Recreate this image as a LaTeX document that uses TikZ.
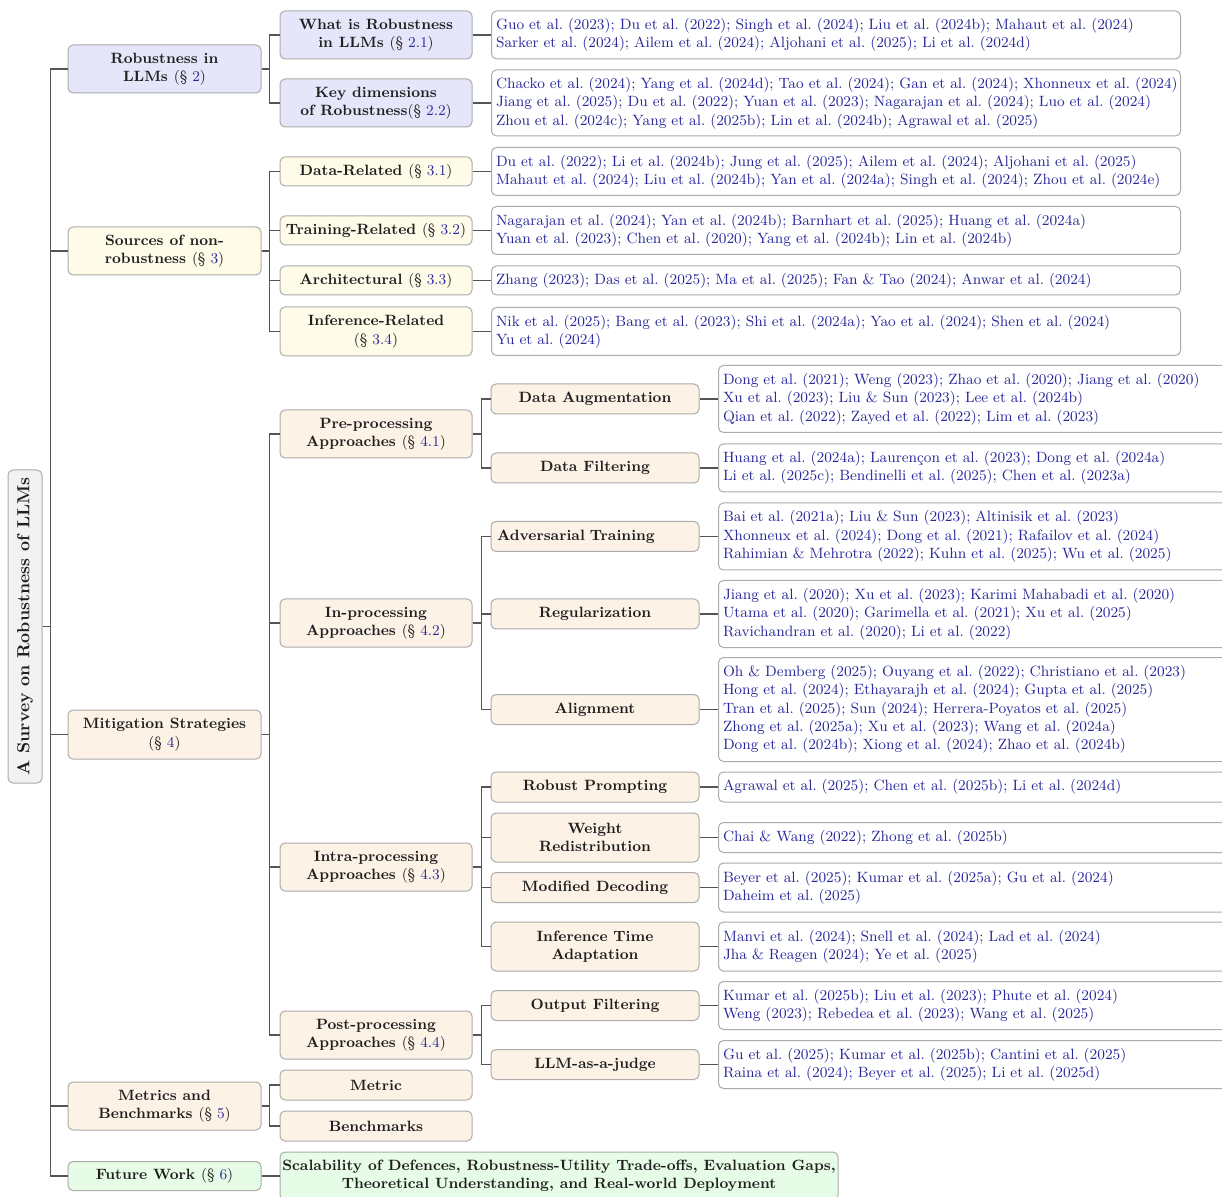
\documentclass[tikz,border=0pt]{standalone}
\usepackage{fontspec}
\usepackage{xcolor}
\definecolor{lavf}{RGB}{230,230,250}
\definecolor{yelf}{RGB}{254,251,232}
\definecolor{peaf}{RGB}{253,242,230}
\definecolor{grnf}{RGB}{230,252,230}
\definecolor{gryf}{RGB}{242,242,242}
\definecolor{bordc}{RGB}{172,172,172}
\definecolor{linec}{RGB}{85,85,85}
\definecolor{citec}{RGB}{40,40,155}
\newcommand\pxl[1]{#1*0.6pt}
\newcommand\secn[1]{{\mdseries(\S~\textcolor{citec}{#1})}}
\frenchspacing
\begin{document}
\begin{tikzpicture}[x=0.6pt,y=-0.6pt,
  conn/.style={draw=linec,line width=0.95pt},
  nbox/.style={draw=bordc,line width=0.6pt,rounded corners=3pt,inner sep=0pt,align=center,font=\fontsize{8.94}{11}\selectfont\bfseries\frenchspacing,text=black!88},
  lone/.style={nbox,minimum width=\pxl{193}},
  ltwo/.style={nbox,minimum width=\pxl{192}},
  lthree/.style={nbox,minimum width=\pxl{208}},
  leafbox/.style={draw=bordc,line width=0.6pt,rounded corners=3pt,fill=white,anchor=west,align=left,inner xsep=\pxl{4.5},inner ysep=0pt,text=citec,font=\fontsize{8.94}{11}\selectfont\frenchspacing},
  leafA/.style={leafbox,text width=\pxl{680}},
  leafB/.style={leafbox,text width=\pxl{530}},
]
\clip (0,0) rectangle (1222,1197);
\fill[white] (0,0) rectangle (1222,1197);

% root
\node[nbox,fill=gryf,rotate=90,minimum width=\pxl{313},minimum height=\pxl{34},font=\fontsize{10.5}{12}\selectfont\bfseries] (root) at (25,626.5) {A Survey on Robustness of LLMs};

% level 1
\node[lone,fill=lavf,minimum height=\pxl{48}] (r2) at (164.5,69) {Robustness in\\LLMs \secn{2}};
\node[lone,fill=yelf,minimum height=\pxl{48}] (r3) at (164.5,251) {Sources of non-\\robustness \secn{3}};
\node[lone,fill=peaf,minimum height=\pxl{49}] (r4) at (164.5,734.5) {Mitigation Strategies\\\secn{4}};
\node[lone,fill=peaf,minimum height=\pxl{48}] (r5) at (164.5,1106) {Metrics and\\Benchmarks \secn{5}};
\node[lone,fill=grnf,minimum height=\pxl{29}] (r6) at (164.5,1176) {Future Work \secn{6}};

% level 2
\node[ltwo,fill=lavf,minimum height=\pxl{48}] (r21) at (376,35) {What is Robustness\\in LLMs \secn{2.1}};
\node[ltwo,fill=lavf,minimum height=\pxl{48}] (r22) at (376,103) {Key dimensions\\of Robustness\secn{2.2}};
\node[ltwo,fill=yelf,minimum height=\pxl{29}] (r31) at (376,171.5) {Data-Related \secn{3.1}};
\node[ltwo,fill=yelf,minimum height=\pxl{29}] (r32) at (376,230.5) {Training-Related \secn{3.2}};
\node[ltwo,fill=yelf,minimum height=\pxl{29}] (r33) at (376,280.5) {Architectural \secn{3.3}};
\node[ltwo,fill=yelf,minimum height=\pxl{49}] (r34) at (376,331.5) {Inference-Related\\\secn{3.4}};
\node[ltwo,fill=peaf,minimum height=\pxl{48}] (r41) at (376,434) {Pre-processing\\Approaches \secn{4.1}};
\node[ltwo,fill=peaf,minimum height=\pxl{48}] (r42) at (376,623) {In-processing\\Approaches \secn{4.2}};
\node[ltwo,fill=peaf,minimum height=\pxl{48}] (r43) at (376,867) {Intra-processing\\Approaches \secn{4.3}};
\node[ltwo,fill=peaf,minimum height=\pxl{48}] (r44) at (376,1035) {Post-processing\\Approaches \secn{4.4}};
\node[ltwo,fill=peaf,minimum height=\pxl{30}] (r51) at (376,1085) {Metric};
\node[ltwo,fill=peaf,minimum height=\pxl{30}] (r52) at (376,1126) {Benchmarks};
\node[nbox,fill=grnf,minimum width=\pxl{558},minimum height=\pxl{48}] (r61) at (559,1176) {Scalability of Defences, Robustness-Utility Trade-offs, Evaluation Gaps,\\Theoretical Understanding, and Real-world Deployment};

% level 3
\node[lthree,fill=peaf,minimum height=\pxl{30}] (r411) at (595,399) {Data Augmentation};
\node[lthree,fill=peaf,minimum height=\pxl{30}] (r412) at (595,468) {Data Filtering};
\node[lthree,fill=peaf,minimum height=\pxl{30},align=left,text width=\pxl{196}] (r421) at (595,536.5) {Adversarial Training};
\node[lthree,fill=peaf,minimum height=\pxl{30}] (r422) at (595,614) {Regularization};
\node[lthree,fill=peaf,minimum height=\pxl{30}] (r423) at (595,709.5) {Alignment};
\node[lthree,fill=peaf,minimum height=\pxl{30}] (r431) at (595,787) {Robust Prompting};
\node[lthree,fill=peaf,minimum height=\pxl{49}] (r432) at (595,837.5) {Weight\\Redistribution};
\node[lthree,fill=peaf,minimum height=\pxl{30}] (r433) at (595,887.5) {Modified Decoding};
\node[lthree,fill=peaf,minimum height=\pxl{49}] (r434) at (595,946.5) {Inference Time\\Adaptation};
\node[lthree,fill=peaf,minimum height=\pxl{30}] (r441) at (595,1005.5) {Output Filtering};
\node[lthree,fill=peaf,minimum height=\pxl{30}] (r442) at (595,1064.5) {LLM-as-a-judge};

% leaves (level 2)
\node[leafA,minimum height=\pxl{48}] (f21) at (491,35) {Guo et al. (2023); Du et al. (2022); Singh et al. (2024); Liu et al. (2024b); Mahaut et al. (2024)\\Sarker et al. (2024); Ailem et al. (2024); Aljohani et al. (2025); Li et al. (2024d)};
\node[leafA,minimum height=\pxl{66}] (f22) at (491,103) {\mbox{Chacko et al. (2024); Yang et al. (2024d); Tao et al. (2024); Gan et al. (2024); Xhonneux et al. (2024)}\\Jiang et al. (2025); Du et al. (2022); Yuan et al. (2023); Nagarajan et al. (2024); Luo et al. (2024)\\Zhou et al. (2024c); Yang et al. (2025b); Lin et al. (2024b); Agrawal et al. (2025)};
\node[leafA,minimum height=\pxl{48}] (f31) at (491,171.5) {Du et al. (2022); Li et al. (2024b); Jung et al. (2025); Ailem et al. (2024); Aljohani et al. (2025)\\\mbox{Mahaut et al. (2024); Liu et al. (2024b); Yan et al. (2024a); Singh et al. (2024); Zhou et al. (2024e)}};
\node[leafA,minimum height=\pxl{48}] (f32) at (491,230.5) {Nagarajan et al. (2024); Yan et al. (2024b); Barnhart et al. (2025); Huang et al. (2024a)\\Yuan et al. (2023); Chen et al. (2020); Yang et al. (2024b); Lin et al. (2024b)};
\node[leafA,minimum height=\pxl{29}] (f33) at (491,280.5) {Zhang (2023); Das et al. (2025); Ma et al. (2025); Fan \& Tao (2024); Anwar et al. (2024)};
\node[leafA,minimum height=\pxl{48}] (f34) at (491,331.5) {Nik et al. (2025); Bang et al. (2023); Shi et al. (2024a); Yao et al. (2024); Shen et al. (2024)\\Yu et al. (2024)};

% leaves (level 3)
\node[leafB,minimum height=\pxl{67}] (f411) at (718,399) {Dong et al. (2021); Weng (2023); Zhao et al. (2020); Jiang et al. (2020)\\Xu et al. (2023); Liu \& Sun (2023); Lee et al. (2024b)\\Qian et al. (2022); Zayed et al. (2022); Lim et al. (2023)};
\node[leafB,minimum height=\pxl{48}] (f412) at (718,468) {Huang et al. (2024a); Laurençon et al. (2023); Dong et al. (2024a)\\Li et al. (2025c); Bendinelli et al. (2025); Chen et al. (2023a)};
\node[leafB,minimum height=\pxl{67}] (f421) at (718,536.5) {Bai et al. (2021a); Liu \& Sun (2023); Altinisik et al. (2023)\\Xhonneux et al. (2024); Dong et al. (2021); Rafailov et al. (2024)\\Rahimian \& Mehrotra (2022); Kuhn et al. (2025); Wu et al. (2025)};
\node[leafB,minimum height=\pxl{67}] (f422) at (718,614) {Jiang et al. (2020); Xu et al. (2023); Karimi Mahabadi et al. (2020)\\Utama et al. (2020); Garimella et al. (2021); Xu et al. (2025)\\Ravichandran et al. (2020); Li et al. (2022)};
\node[leafB,minimum height=\pxl{104}] (f423) at (718,709.5) {Oh \& Demberg (2025); Ouyang et al. (2022); Christiano et al. (2023)\\Hong et al. (2024); Ethayarajh et al. (2024); Gupta et al. (2025)\\Tran et al. (2025); Sun (2024); Herrera-Poyatos et al. (2025)\\Zhong et al. (2025a); Xu et al. (2023); Wang et al. (2024a)\\Dong et al. (2024b); Xiong et al. (2024); Zhao et al. (2024b)};
\node[leafB,minimum height=\pxl{30}] (f431) at (718,787) {Agrawal et al. (2025); Chen et al. (2025b); Li et al. (2024d)};
\node[leafB,minimum height=\pxl{30}] (f432) at (718,837.5) {Chai \& Wang (2022); Zhong et al. (2025b)};
\node[leafB,minimum height=\pxl{49}] (f433) at (718,887.5) {Beyer et al. (2025); Kumar et al. (2025a); Gu et al. (2024)\\Daheim et al. (2025)};
\node[leafB,minimum height=\pxl{49}] (f434) at (718,946.5) {Manvi et al. (2024); Snell et al. (2024); Lad et al. (2024)\\Jha \& Reagen (2024); Ye et al. (2025)};
\node[leafB,minimum height=\pxl{48}] (f441) at (718,1005.5) {Kumar et al. (2025b); Liu et al. (2023); Phute et al. (2024)\\Weng (2023); Rebedea et al. (2023); Wang et al. (2025)};
\node[leafB,minimum height=\pxl{48}] (f442) at (718,1064.5) {Gu et al. (2025); Kumar et al. (2025b); Cantini et al. (2025)\\Raina et al. (2024); Beyer et al. (2025); Li et al. (2025d)};

% connectors
\foreach \c in {r2,r3,r4,r5,r6} \draw[conn] (root.south) -- ++(8,0) |- (\c.west);
\foreach \c in {r21,r22} \draw[conn] (r2.east) -- ++(8,0) |- (\c.west);
\foreach \c in {r31,r32,r33,r34} \draw[conn] (r3.east) -- ++(8,0) |- (\c.west);
\foreach \c in {r41,r42,r43,r44} \draw[conn] (r4.east) -- ++(8,0) |- (\c.west);
\foreach \c in {r51,r52} \draw[conn] (r5.east) -- ++(8,0) |- (\c.west);
\draw[conn] (r6.east) -- (r61.west);
\foreach \c in {r411,r412} \draw[conn] (r41.east) -- ++(9,0) |- (\c.west);
\foreach \c in {r421,r422,r423} \draw[conn] (r42.east) -- ++(9,0) |- (\c.west);
\foreach \c in {r431,r432,r433,r434} \draw[conn] (r43.east) -- ++(9,0) |- (\c.west);
\foreach \c in {r441,r442} \draw[conn] (r44.east) -- ++(9,0) |- (\c.west);
\foreach \a/\b in {r21/f21,r22/f22,r31/f31,r32/f32,r33/f33,r34/f34,r411/f411,r412/f412,r421/f421,r422/f422,r423/f423,r431/f431,r432/f432,r433/f433,r434/f434,r441/f441,r442/f442} \draw[conn] (\a.east) -- (\b.west);
\end{tikzpicture}
\end{document}
